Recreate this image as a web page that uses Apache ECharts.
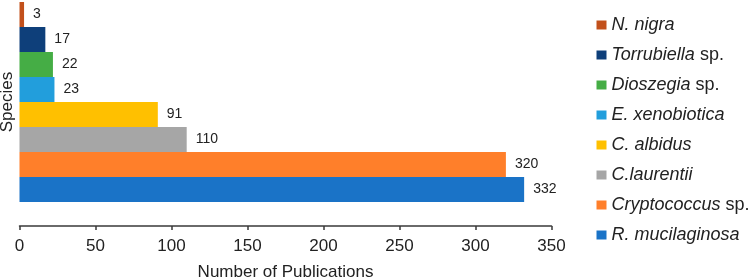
<!DOCTYPE html>
<html><head><meta charset="utf-8">
<script src="https://cdn.jsdelivr.net/npm/echarts@6/dist/echarts.min.js"></script>
<style>html,body{margin:0;padding:0;background:#fff}#c{width:749px;height:278px}</style>
</head><body><div id="c"></div>
<script>
const species = ['N. nigra', 'Torrubiella sp.', 'Dioszegia sp.', 'E. xenobiotica', 'C. albidus', 'C.laurentii', 'Cryptococcus sp.', 'R. mucilaginosa'];
const publications = [3, 17, 22, 23, 91, 110, 320, 332];
const palette = ['#C2501B', '#0E3F7A', '#45AD45', '#229EDC', '#FFC000', '#A6A6A6', '#FF7F2A', '#1A73C7'];
const xTicks = [0, 50, 100, 150, 200, 250, 300, 350];

const series = species.map((name, i) => ({
  name: name,
  type: 'bar',
  barGap: '-100%',
  barCategoryGap: '0%',
  itemStyle: { color: palette[i] },
  label: { show: true, position: 'right', distance: 9, color: '#222', fontSize: 14, fontFamily: 'Liberation Sans' },
  data: species.map((s, j) => j === i ? publications[i] : '-')
}));

const chart = echarts.init(document.getElementById('c'));
chart.setOption({
  animation: false,
  textStyle: { fontFamily: 'Liberation Sans' },
  grid: { left: 19.5, right: 197.5, top: 2, height: 200, containLabel: false, outerBoundsMode: 'none' },
  xAxis: {
    type: 'value', min: xTicks[0], max: xTicks[xTicks.length - 1], interval: 50,
    offset: 24,
    splitLine: { show: false },
    axisLine: { show: true, lineStyle: { color: '#3a3a3a', width: 1.5 } },
    axisTick: { show: true, length: 4, lineStyle: { color: '#3a3a3a', width: 1.5 } },
    axisLabel: { color: '#222', fontSize: 17, margin: 12 },
    name: 'Number of Publications', nameLocation: 'middle', nameGap: 38,
    nameTextStyle: { color: '#222', fontSize: 17 }
  },
  yAxis: {
    type: 'category', data: species, inverse: true,
    axisLine: { show: false }, axisTick: { show: false }, axisLabel: { show: false },
    name: 'Species', nameLocation: 'middle', nameGap: 4, nameRotate: 90,
    nameTextStyle: { color: '#222', fontSize: 17 }
  },
  legend: {
    orient: 'vertical', left: 591.5, top: 11,
    itemWidth: 10, itemHeight: 9, itemGap: 12,
    icon: 'rect',
    data: species,
    formatter: function (n) {
      if (n.endsWith(' sp.')) return '{i|' + n.slice(0, -4) + '} sp.';
      return '{i|' + n + '}';
    },
    textStyle: {
      color: '#222', fontSize: 18, lineHeight: 18,
      rich: { i: { fontStyle: 'italic', fontSize: 18, color: '#222' } }
    }
  },
  series: series
});
</script>
</body></html>
